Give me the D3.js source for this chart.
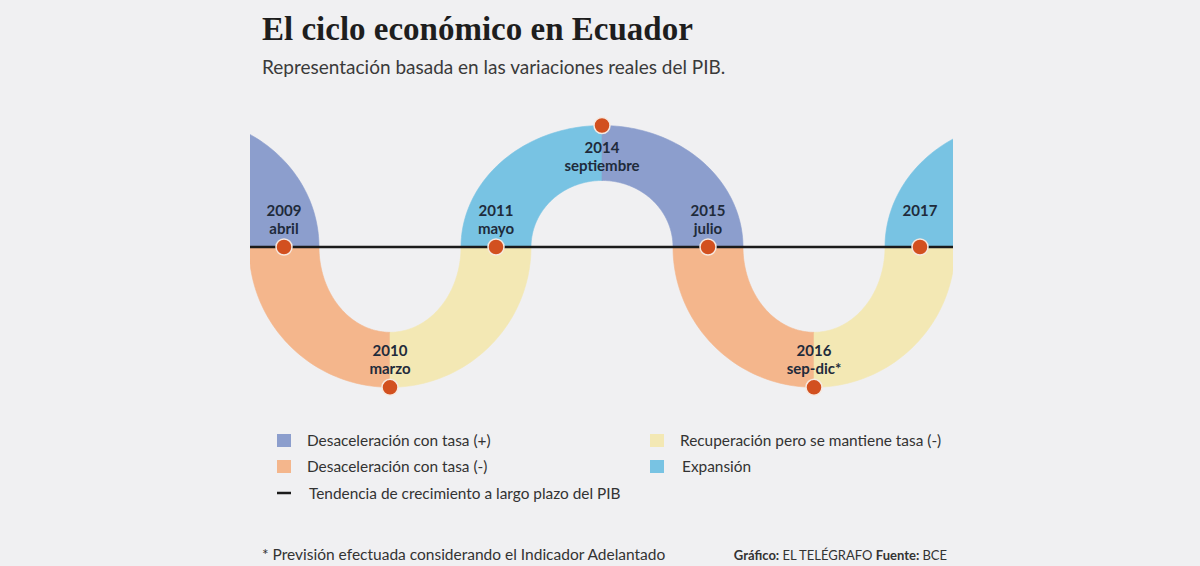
<!DOCTYPE html>
<html><head><meta charset="utf-8">
<script src="https://cdn.jsdelivr.net/npm/d3@7"></script>
<style>
html,body{margin:0;padding:0;background:#f0f0f2;}
svg{display:block;}
</style></head><body>
<svg id="chart" width="1200" height="566"></svg>
<script>
// ---- data ----
const milestoneYears  = ["2009","2010","2011","2014","2015","2016","2017"];
const milestoneMonths = ["abril","marzo","mayo","septiembre","julio","sep-dic*",""];
// position of the cycle relative to the long-term trend (0 = on trend); first/last knots lie outside the frame
const knotIndex = [-1, 0, 1, 2, 3, 4, 5, 6, 7];
const knotLevel = [1.1, 0, -1.2, 0, 1, 0, -1.2, 0, 1.05];
// phase of each stretch between consecutive knots
const segmentPhase = ["desPos","desNeg","recup","expan","desPos","desNeg","recup","expan"];
const phaseKeys   = ["desPos","desNeg","recup","expan"];
const phaseLabels = ["Desaceleración con tasa (+)","Desaceleración con tasa (-)","Recuperación pero se mantiene tasa (-)","Expansión"];
const phaseColors = ["#8c9ecd","#f4b68c","#f3e8b4","#78c3e3"];
const trendLabel = "Tendencia de crecimiento a largo plazo del PIB";

const title = "El ciclo económico en Ecuador";
const subtitle = "Representación basada en las variaciones reales del PIB.";
const footnote = "* Previsión efectuada considerando el Indicador Adelantado";

// ---- drawing ----
const svg = d3.select("#chart");
svg.append("rect").attr("width",1200).attr("height",566).attr("fill","#f0f0f2");

const x = d3.scaleLinear().domain([0, 6]).range([284, 920]);
const y = d3.scaleLinear().domain([0, 1]).range([247, 153]);
const color = d3.scaleOrdinal().domain(phaseKeys).range(phaseColors);

const halfW = 35, halfV = 27.5;   // band half-thickness (horizontal / vertical)
const frameL = 250, frameR = 953;

svg.append("defs").append("clipPath").attr("id","frame")
  .append("rect").attr("x",frameL).attr("y",0).attr("width",frameR-frameL).attr("height",566);

const band = svg.append("g").attr("clip-path","url(#frame)");
const line = d3.line();
const N = 60;

for (let i = 0; i < segmentPhase.length; i++) {
  const a = {i: knotIndex[i], l: knotLevel[i]};
  const b = {i: knotIndex[i+1], l: knotLevel[i+1]};
  const base = a.l === 0 ? a : b;      // knot on the trend line
  const ext  = a.l === 0 ? b : a;      // extreme knot (peak / trough)
  const cx = x(ext.i), cy = y(0);
  const rx = Math.abs(x(base.i) - cx), ry = Math.abs(y(ext.l) - cy);
  const sx = Math.sign(x(base.i) - cx), sy = Math.sign(y(ext.l) - cy);
  const pts = [];
  for (let k = 0; k <= N; k++) {
    const t = (k / N) * Math.PI / 2;
    pts.push([cx + sx*(rx+halfW)*Math.cos(t), cy + sy*(ry+halfV)*Math.sin(t)]);
  }
  for (let k = N; k >= 0; k--) {
    const t = (k / N) * Math.PI / 2;
    pts.push([cx + sx*(rx-halfW)*Math.cos(t), cy + sy*(ry-halfV)*Math.sin(t)]);
  }
  band.append("path").attr("d", line(pts) + "Z")
    .attr("fill", color(segmentPhase[i]))
    .attr("stroke", color(segmentPhase[i])).attr("stroke-width", 0.6);
}

// trend line
svg.append("line").attr("x1",frameL).attr("x2",frameR).attr("y1",y(0)).attr("y2",y(0))
  .attr("stroke","#1b1b1b").attr("stroke-width",2.5);

// milestones
const milestones = milestoneYears.map((yr, j) => {
  const lvl = knotLevel[j+1];
  const mx = x(knotIndex[j+1]);
  const my = lvl === 0 ? y(0) : (lvl > 0 ? y(lvl) - halfV : y(lvl) + halfV);
  return {yr, mo: milestoneMonths[j], lvl, mx, my};
});

const sans = "Lato,'Open Sans',sans-serif";
const lab = svg.append("g").attr("font-family", sans).attr("font-weight","bold")
  .attr("font-size",15).attr("fill","#1f2b3b").attr("text-anchor","middle");
milestones.forEach(m => {
  const below = m.lvl > 0;
  const y1 = below ? m.my + 27 : m.my - 31;
  lab.append("text").attr("x", m.mx).attr("y", y1).text(m.yr);
  if (m.mo) lab.append("text").attr("x", m.mx).attr("y", y1 + 18).text(m.mo);
});

svg.append("g").selectAll("circle").data(milestones).join("circle")
  .attr("cx", d => d.mx).attr("cy", d => d.my).attr("r", 8)
  .attr("fill","#d2501f").attr("stroke","#f6e9e0").attr("stroke-width",1.5);

// titles
svg.append("text").attr("x",262).attr("y",40).text(title)
  .attr("font-family","'Liberation Serif','DejaVu Serif',serif").attr("font-weight","bold")
  .attr("font-size",33).attr("fill","#1e1e1e");
svg.append("text").attr("x",262).attr("y",74).text(subtitle)
  .attr("font-family", sans).attr("font-size",19).attr("fill","#3a3a3a");

// legend
const legendPos = {desPos:[277,441], desNeg:[277,467], recup:[650,441], expan:[650,467]};
const leg = svg.append("g").attr("font-family", sans).attr("font-size",15.4).attr("fill","#333");
phaseKeys.forEach((k, j) => {
  const [lx, ly] = legendPos[k];
  leg.append("rect").attr("x", lx).attr("y", ly-7).attr("width",14).attr("height",13).attr("fill", phaseColors[j]);
  leg.append("text").attr("x", lx + (k === "expan" ? 32 : 30)).attr("y", ly+5).text(phaseLabels[j]);
});
leg.append("line").attr("x1",277).attr("x2",291).attr("y1",493).attr("y2",493).attr("stroke","#1b1b1b").attr("stroke-width",2.5);
leg.append("text").attr("x",309).attr("y",499).text(trendLabel);

// footer
const foot = svg.append("g").attr("font-family", sans).attr("font-size",15.5).attr("fill","#333");
foot.append("text").attr("x",262).attr("y",560).text(footnote);
const cred = foot.append("text").attr("x",947).attr("y",560).attr("text-anchor","end").attr("font-size",13);
cred.append("tspan").attr("font-weight","bold").text("Gráfico: ");
cred.append("tspan").text(" EL TELÉGRAFO ");
cred.append("tspan").attr("font-weight","bold").text("Fuente: ");
cred.append("tspan").text("BCE");
</script>
</body></html>
